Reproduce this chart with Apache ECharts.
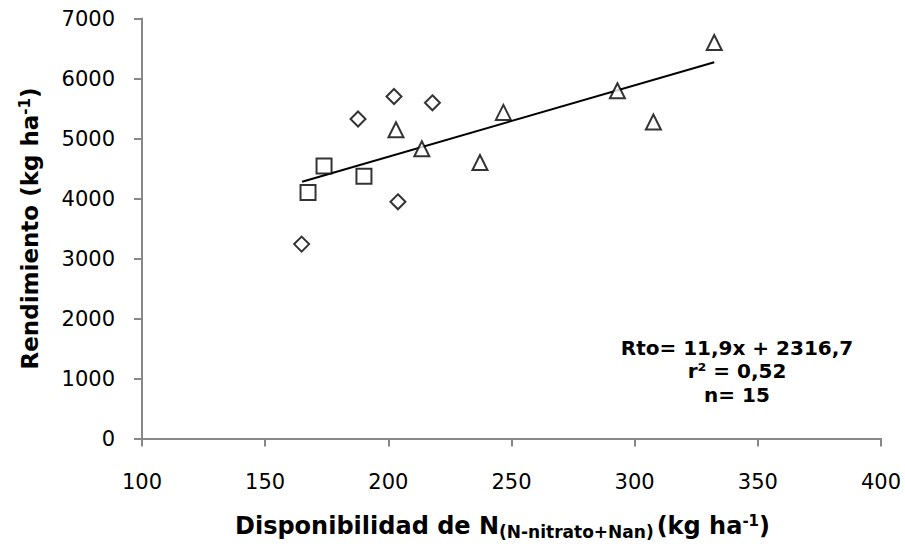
<!DOCTYPE html>
<html>
<head>
<meta charset="utf-8">
<script src="https://cdn.jsdelivr.net/npm/echarts@6/dist/echarts.min.js"></script>
<style>
  html, body { margin: 0; padding: 0; background: #fff; }
  #chart { width: 905px; height: 552px; }
</style>
</head>
<body>
<div id="chart"></div>
<script>
// datos: [N disponible, rendimiento]
const diamonds = [[164.8, 3240], [187.7, 5325], [202.3, 5700], [217.9, 5595], [203.9, 3945]]
const squares = [[167.4, 4100], [173.9, 4540], [190.1, 4370]]
const triangles = [[203.1, 5145], [213.6, 4830], [237.2, 4600], [246.7, 5435], [293.0, 5795], [307.6, 5275], [332.3, 6600]]
// recta de regresión (extremos)
const trend = [[165, 4280], [332.3, 6270]]
const xTicks = { min: 100, max: 400, step: 50 }
const yTicks = { min: 0, max: 7000, step: 1000 }
const annotation = ['Rto= 11,9x + 2316,7', 'r² = 0,52', 'n= 15']

const font = '"DejaVu Sans", sans-serif'
const axisGray = '#878787'

const chart = echarts.init(document.getElementById('chart'), null, { renderer: 'svg' })

const markerSeries = (data, symbol, size) => ({
  type: 'scatter',
  data,
  symbol,
  symbolSize: size,
  itemStyle: { color: '#fff', borderColor: '#000', borderWidth: 2 },
  z: 3
})

const option = {
  animation: false,
  grid: { left: 142, right: 24, top: 18.5, bottom: 113.5 },
  xAxis: {
    type: 'value',
    min: xTicks.min,
    max: xTicks.max,
    interval: xTicks.step,
    splitLine: { show: false },
    axisLine: { lineStyle: { color: axisGray, width: 2 } },
    axisTick: { length: 8, lineStyle: { color: axisGray, width: 2 } },
    axisLabel: { color: '#000', fontFamily: font, fontSize: 21, margin: 33 },
    name: '{t|Disponibilidad de N}{sub|(N-nitrato+Nan)}{t|(kg ha}{sup|-1}{t|)}',
    nameLocation: 'middle',
    nameGap: 72,
    nameTextStyle: {
      padding: [0, 18, 0, 0],
      rich: {
        t: { fontFamily: font, fontSize: 24, fontWeight: 'bold', color: '#000' },
        sub: { fontFamily: font, fontSize: 17, fontWeight: 'bold', color: '#000', padding: [13, 3, 0, 0] },
        sup: { fontFamily: font, fontSize: 15, fontWeight: 'bold', color: '#000', padding: [0, 0, 10, 0] }
      }
    }
  },
  yAxis: {
    type: 'value',
    min: yTicks.min,
    max: yTicks.max,
    interval: yTicks.step,
    splitLine: { show: false },
    axisLine: { show: true, lineStyle: { color: axisGray, width: 2 } },
    axisTick: { show: true, length: 8, lineStyle: { color: axisGray, width: 2 } },
    axisLabel: { color: '#000', fontFamily: font, fontSize: 21, margin: 27, formatter: v => String(v) },
    name: '{t|Rendimiento (kg ha}{sup|-1}{t|)}',
    nameLocation: 'middle',
    nameGap: 100,
    nameTextStyle: {
      rich: {
        t: { fontFamily: font, fontSize: 23, fontWeight: 'bold', color: '#000' },
        sup: { fontFamily: font, fontSize: 15, fontWeight: 'bold', color: '#000', padding: [0, 0, 10, 0] }
      }
    }
  },
  graphic: [{
    type: 'text',
    x: 737,
    y: 336,
    style: {
      text: annotation.join('\n'),
      align: 'center',
      verticalAlign: 'top',
      fontFamily: font,
      fontSize: 20,
      fontWeight: 'bold',
      lineHeight: 23.5,
      fill: '#000'
    }
  }],
  series: [
    {
      type: 'line',
      data: trend,
      symbol: 'none',
      lineStyle: { color: '#000', width: 2 },
      z: 2
    },
    markerSeries(diamonds, 'diamond', 15),
    markerSeries(squares, 'rect', 15),
    markerSeries(triangles, 'triangle', 15)
  ]
}

chart.setOption(option)
</script>
</body>
</html>
